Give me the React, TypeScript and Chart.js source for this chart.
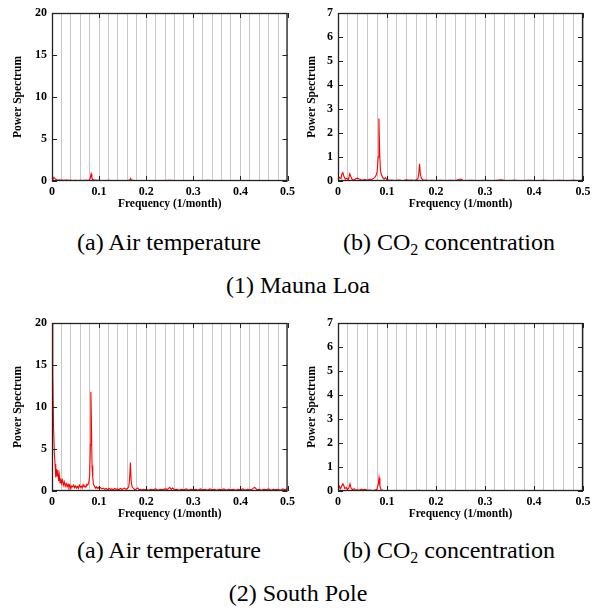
import React, { useEffect, useRef } from "react";
import { Chart, registerables } from "chart.js";

Chart.register(...registerables);

type Pair = [number, number];

// Frequency (1/month), power spectrum value
const maunaLoaTemperature: Pair[] = [
  [0, 0.1], [0.002, 0.2], [0.004, 0.45], [0.006, 0.3], [0.008, 0.2], [0.01, 0.15], [0.015, 0.1],
  [0.02, 0.12], [0.025, 0.08], [0.03, 0.1], [0.035, 0.07], [0.04, 0.09], [0.045, 0.06], [0.05, 0.08],
  [0.055, 0.05], [0.06, 0.07], [0.065, 0.06], [0.07, 0.08], [0.075, 0.07], [0.079, 0.12], [0.081, 0.3],
  [0.083, 0.85], [0.0845, 0.45], [0.086, 0.2], [0.09, 0.1], [0.095, 0.07], [0.1, 0.08], [0.105, 0.05],
  [0.11, 0.06], [0.115, 0.05], [0.12, 0.07], [0.125, 0.04], [0.13, 0.06], [0.135, 0.05], [0.14, 0.06],
  [0.145, 0.04], [0.15, 0.05], [0.155, 0.06], [0.16, 0.04], [0.165, 0.1], [0.167, 0.3], [0.169, 0.1],
  [0.175, 0.05], [0.18, 0.06], [0.19, 0.04], [0.2, 0.05], [0.21, 0.04], [0.22, 0.05], [0.23, 0.03],
  [0.24, 0.05], [0.25, 0.08], [0.26, 0.04], [0.27, 0.05], [0.28, 0.03], [0.29, 0.04], [0.3, 0.05],
  [0.31, 0.03], [0.32, 0.04], [0.333, 0.07], [0.34, 0.03], [0.35, 0.04], [0.36, 0.05], [0.37, 0.03],
  [0.38, 0.04], [0.39, 0.03], [0.4, 0.05], [0.41, 0.03], [0.42, 0.04], [0.43, 0.03], [0.44, 0.05],
  [0.45, 0.03], [0.46, 0.04], [0.47, 0.03], [0.48, 0.04], [0.49, 0.03], [0.5, 0.04],
];

const maunaLoaCO2: Pair[] = [
  [0, 0.05], [0.003, 0.15], [0.006, 0.1], [0.008, 0.3], [0.01, 0.35], [0.012, 0.2], [0.015, 0.08],
  [0.018, 0.12], [0.021, 0.05], [0.024, 0.3], [0.026, 0.2], [0.029, 0.06], [0.033, 0.04], [0.037, 0.1],
  [0.04, 0.12], [0.043, 0.08], [0.047, 0.05], [0.05, 0.04], [0.055, 0.06], [0.06, 0.03], [0.065, 0.08],
  [0.068, 0.05], [0.072, 0.1], [0.075, 0.15], [0.078, 0.25], [0.08, 0.4], [0.082, 1.0], [0.0835, 2.6],
  [0.085, 1.2], [0.0865, 0.45], [0.088, 0.3], [0.091, 0.15], [0.094, 0.08], [0.097, 0.14], [0.1, 0.05],
  [0.105, 0.03], [0.11, 0.04], [0.115, 0.02], [0.12, 0.03], [0.125, 0.04], [0.13, 0.02], [0.135, 0.03],
  [0.14, 0.05], [0.145, 0.03], [0.15, 0.04], [0.155, 0.02], [0.16, 0.05], [0.163, 0.1], [0.165, 0.35],
  [0.1665, 0.72], [0.168, 0.3], [0.17, 0.12], [0.173, 0.05], [0.177, 0.03], [0.18, 0.04], [0.185, 0.02],
  [0.19, 0.03], [0.2, 0.02], [0.21, 0.03], [0.22, 0.02], [0.23, 0.03], [0.24, 0.02], [0.25, 0.08],
  [0.255, 0.03], [0.26, 0.02], [0.27, 0.03], [0.28, 0.02], [0.29, 0.02], [0.3, 0.03], [0.31, 0.02],
  [0.32, 0.02], [0.333, 0.05], [0.34, 0.02], [0.35, 0.02], [0.36, 0.03], [0.37, 0.02], [0.38, 0.02],
  [0.39, 0.03], [0.4, 0.02], [0.41, 0.02], [0.42, 0.03], [0.43, 0.02], [0.44, 0.02], [0.45, 0.03],
  [0.46, 0.02], [0.47, 0.02], [0.48, 0.03], [0.49, 0.02], [0.5, 0.03],
];

const southPoleTemperature: Pair[] = [
  [0, 25], [0.0017, 14], [0.0033, 7.6], [0.005, 4.5], [0.0065, 3.2], [0.008, 1.6], [0.0095, 2.6],
  [0.011, 1.8], [0.0125, 2.5], [0.014, 1.2], [0.0155, 1.9], [0.017, 1.0], [0.0185, 1.5], [0.02, 0.9],
  [0.022, 1.3], [0.024, 0.7], [0.026, 1.1], [0.028, 0.6], [0.03, 0.9], [0.032, 0.5], [0.034, 0.8],
  [0.036, 0.4], [0.038, 0.7], [0.04, 0.3], [0.042, 0.6], [0.044, 0.5], [0.046, 0.7], [0.048, 0.4],
  [0.05, 0.6], [0.052, 0.35], [0.054, 0.55], [0.056, 0.3], [0.058, 0.7], [0.06, 0.45], [0.062, 0.6],
  [0.064, 0.35], [0.066, 0.75], [0.068, 0.5], [0.07, 0.6], [0.072, 0.45], [0.074, 0.8], [0.076, 0.7],
  [0.078, 1.0], [0.08, 1.8], [0.0815, 5.5], [0.0825, 11.8], [0.0835, 9.0], [0.085, 3.0], [0.0865, 1.6],
  [0.088, 0.8], [0.09, 0.6], [0.092, 0.35], [0.094, 0.5], [0.096, 0.3], [0.098, 0.45], [0.1, 0.3],
  [0.103, 0.4], [0.106, 0.25], [0.109, 0.35], [0.112, 0.2], [0.115, 0.3], [0.118, 0.15], [0.121, 0.3],
  [0.124, 0.2], [0.127, 0.25], [0.13, 0.15], [0.133, 0.3], [0.136, 0.2], [0.139, 0.25], [0.142, 0.15],
  [0.145, 0.3], [0.148, 0.2], [0.151, 0.25], [0.154, 0.35], [0.157, 0.2], [0.16, 0.3], [0.163, 0.5],
  [0.1648, 1.5], [0.1664, 3.4], [0.168, 1.2], [0.17, 0.5], [0.173, 0.3], [0.176, 0.15], [0.179, 0.25],
  [0.182, 0.35], [0.185, 0.15], [0.188, 0.2], [0.191, 0.1], [0.194, 0.2], [0.197, 0.15], [0.2, 0.2],
  [0.205, 0.1], [0.21, 0.2], [0.215, 0.15], [0.22, 0.25], [0.225, 0.1], [0.23, 0.2], [0.235, 0.15],
  [0.24, 0.25], [0.245, 0.2], [0.25, 0.45], [0.253, 0.2], [0.256, 0.35], [0.26, 0.15], [0.265, 0.2],
  [0.27, 0.1], [0.275, 0.2], [0.28, 0.15], [0.285, 0.25], [0.29, 0.1], [0.295, 0.2], [0.3, 0.15],
  [0.305, 0.2], [0.31, 0.1], [0.315, 0.25], [0.32, 0.15], [0.325, 0.2], [0.33, 0.1], [0.335, 0.25],
  [0.34, 0.15], [0.345, 0.2], [0.35, 0.1], [0.355, 0.2], [0.36, 0.15], [0.365, 0.25], [0.37, 0.1],
  [0.375, 0.2], [0.38, 0.15], [0.385, 0.2], [0.39, 0.1], [0.395, 0.2], [0.4, 0.15], [0.405, 0.25],
  [0.41, 0.1], [0.415, 0.2], [0.42, 0.15], [0.425, 0.2], [0.43, 0.45], [0.435, 0.15], [0.44, 0.2],
  [0.445, 0.1], [0.45, 0.2], [0.455, 0.15], [0.46, 0.25], [0.465, 0.1], [0.47, 0.2], [0.475, 0.15],
  [0.48, 0.2], [0.485, 0.1], [0.49, 0.25], [0.495, 0.15], [0.5, 0.3],
];

const southPoleCO2: Pair[] = [
  [0, 0.02], [0.003, 0.2], [0.005, 0.1], [0.007, 0.18], [0.01, 0.3], [0.012, 0.22], [0.014, 0.1],
  [0.017, 0.15], [0.019, 0.06], [0.022, 0.12], [0.0245, 0.3], [0.027, 0.1], [0.03, 0.06], [0.033, 0.1],
  [0.036, 0.04], [0.04, 0.05], [0.044, 0.03], [0.048, 0.08], [0.051, 0.05], [0.055, 0.07], [0.06, 0.03],
  [0.065, 0.04], [0.07, 0.02], [0.075, 0.04], [0.079, 0.06], [0.082, 0.25], [0.0837, 0.55], [0.0855, 0.2],
  [0.088, 0.05], [0.092, 0.03], [0.1, 0.02], [0.11, 0.02], [0.12, 0.01], [0.13, 0.02], [0.14, 0.01],
  [0.15, 0.02], [0.16, 0.02], [0.167, 0.03], [0.17, 0.01], [0.18, 0.02], [0.19, 0.01], [0.2, 0.02],
  [0.21, 0.01], [0.22, 0.02], [0.23, 0.01], [0.24, 0.02], [0.25, 0.02], [0.26, 0.01], [0.27, 0.02],
  [0.28, 0.01], [0.29, 0.02], [0.3, 0.01], [0.31, 0.02], [0.32, 0.01], [0.33, 0.02], [0.34, 0.01],
  [0.35, 0.02], [0.36, 0.01], [0.37, 0.02], [0.38, 0.01], [0.39, 0.02], [0.4, 0.01], [0.41, 0.02],
  [0.42, 0.01], [0.43, 0.02], [0.44, 0.01], [0.45, 0.02], [0.46, 0.01], [0.47, 0.02], [0.48, 0.01],
  [0.49, 0.02], [0.5, 0.01],
];

const xMajorTicks = [0, 0.1, 0.2, 0.3, 0.4, 0.5];
const temperatureYTicks = [0, 5, 10, 15, 20];
const co2YTicks = [0, 1, 2, 3, 4, 5, 6, 7];

const xTitle = "Frequency (1/month)";
const yTitle = "Power Spectrum";

const SERIF = '"Liberation Serif", "Times New Roman", serif';

type PanelProps = {
  data: Pair[];
  yTicks: number[];
  left: number;
  top: number;
  width: number;
  height: number;
  area: { left: number; top: number; right: number; bottom: number };
  yTitlePad: number;
};

function Panel({ data, yTicks, left, top, width, height, area, yTitlePad }: PanelProps) {
  const ref = useRef<HTMLCanvasElement | null>(null);

  useEffect(() => {
    if (!ref.current) return;
    const yMax = yTicks[yTicks.length - 1];
    const yStep = yTicks[1] - yTicks[0];

    const framePlugin = {
      id: "frame",
      afterDatasetsDraw(chart: any) {
        const { ctx, chartArea: a, scales } = chart;
        const xs = scales.x;
        const ys = scales.y;
        ctx.save();
        ctx.strokeStyle = "#222";
        ctx.lineWidth = 1;
        ctx.beginPath();
        const tl = 5;
        for (const v of yTicks) {
          const py = Math.round(ys.getPixelForValue(v)) + 0.5;
          ctx.moveTo(a.left, py);
          ctx.lineTo(a.left + tl, py);
          ctx.moveTo(a.right, py);
          ctx.lineTo(a.right - tl, py);
        }
        for (const v of xMajorTicks) {
          const px = Math.round(xs.getPixelForValue(v)) + 0.5;
          ctx.moveTo(px, a.bottom);
          ctx.lineTo(px, a.bottom - tl);
          ctx.moveTo(px, a.top);
          ctx.lineTo(px, a.top + tl);
        }
        ctx.stroke();
        ctx.lineWidth = 1.3;
        ctx.strokeRect(a.left + 0.5, a.top + 0.5, a.right - a.left - 1, a.bottom - a.top - 1);
        ctx.restore();
      },
    };

    const chart = new Chart(ref.current, {
      type: "line",
      data: {
        datasets: [
          {
            data: data.map(([f, p]) => ({ x: f, y: p })),
            borderColor: "#ff0000",
            borderWidth: 1.1,
            pointRadius: 0,
            tension: 0,
            fill: false,
          },
        ],
      },
      options: {
        animation: false,
        responsive: false,
        maintainAspectRatio: false,
        events: [],
        layout: {
          padding: {
            left: 0,
            top: area.top,
            right: width - area.right,
            bottom: 0,
          },
        },
        plugins: {
          legend: { display: false },
          tooltip: { enabled: false },
        },
        scales: {
          x: {
            type: "linear",
            min: 0,
            max: 0.5,
            afterFit: (s: any) => {
              s.height = height - area.bottom;
            },
            grid: {
              color: "#c8c8c8",
              lineWidth: 1,
              drawTicks: false,
            },
            border: { display: false },
            ticks: {
              stepSize: 0.02,
              autoSkip: false,
              maxRotation: 0,
              minRotation: 0,
              padding: 4,
              color: "#000",
              font: { family: SERIF, size: 12, weight: "bold" },
              callback: (v: any) => {
                const n = Number(v);
                const r = Math.round(n * 10);
                if (Math.abs(n * 10 - r) < 1e-6) return String(r / 10);
                return "";
              },
            },
            title: {
              display: true,
              text: xTitle,
              color: "#000",
              font: { family: SERIF, size: 11.5, weight: "bold" },
              padding: { top: 0, bottom: 4 },
            },
          },
          y: {
            type: "linear",
            min: 0,
            max: yMax,
            afterFit: (s: any) => {
              s.width = area.left;
            },
            grid: { display: false, drawTicks: false },
            border: { display: false },
            ticks: {
              stepSize: yStep,
              padding: 5,
              color: "#000",
              font: { family: SERIF, size: 12, weight: "bold" },
            },
            title: {
              display: true,
              text: yTitle,
              color: "#000",
              font: { family: SERIF, size: 11.5, weight: "bold" },
              padding: { top: yTitlePad, bottom: 0 },
            },
          },
        },
      } as any,
      plugins: [framePlugin],
    });
    return () => chart.destroy();
  }, [data, yTicks, width, height, area, yTitlePad]);

  return (
    <div style={{ position: "absolute", left, top, width, height }}>
      <canvas ref={ref} width={width} height={height} style={{ display: "block" }} />
    </div>
  );
}

const captionStyle: React.CSSProperties = {
  position: "absolute",
  width: 300,
  textAlign: "center",
  fontFamily: SERIF,
  fontSize: 24,
  lineHeight: "24px",
  color: "#000",
  whiteSpace: "nowrap",
};

function CO2Caption({ cx, top }: { cx: number; top: number }) {
  return (
    <div style={{ ...captionStyle, left: cx - 150, top }}>
      (b) CO<span style={{ fontSize: 16, position: "relative", top: 5 }}>2</span> concentration
    </div>
  );
}

function TextCaption({ cx, top, text }: { cx: number; top: number; text: string }) {
  return <div style={{ ...captionStyle, left: cx - 150, top }}>{text}</div>;
}

const leftArea = { left: 52, top: 13, right: 290, bottom: 181 };
const rightArea = { left: 39, top: 13, right: 284, bottom: 181 };

export default function App() {
  return (
    <div
      style={{
        position: "absolute",
        left: 0,
        top: 0,
        width: 598,
        height: 610,
        background: "#fff",
        overflow: "hidden",
      }}
    >
      <Panel data={maunaLoaTemperature} yTicks={temperatureYTicks} left={0} top={0} width={299} height={215} area={leftArea} yTitlePad={11} />
      <Panel data={maunaLoaCO2} yTicks={co2YTicks} left={299} top={0} width={299} height={215} area={rightArea} yTitlePad={6} />
      <Panel data={southPoleTemperature} yTicks={temperatureYTicks} left={0} top={310} width={299} height={215} area={leftArea} yTitlePad={11} />
      <Panel data={southPoleCO2} yTicks={co2YTicks} left={299} top={310} width={299} height={215} area={rightArea} yTitlePad={6} />

      <TextCaption cx={169} top={230} text="(a) Air temperature" />
      <CO2Caption cx={449} top={230} />
      <TextCaption cx={298} top={273} text="(1) Mauna Loa" />

      <TextCaption cx={169} top={538} text="(a) Air temperature" />
      <CO2Caption cx={449} top={538} />
      <TextCaption cx={298} top={581} text="(2) South Pole" />
    </div>
  );
}
